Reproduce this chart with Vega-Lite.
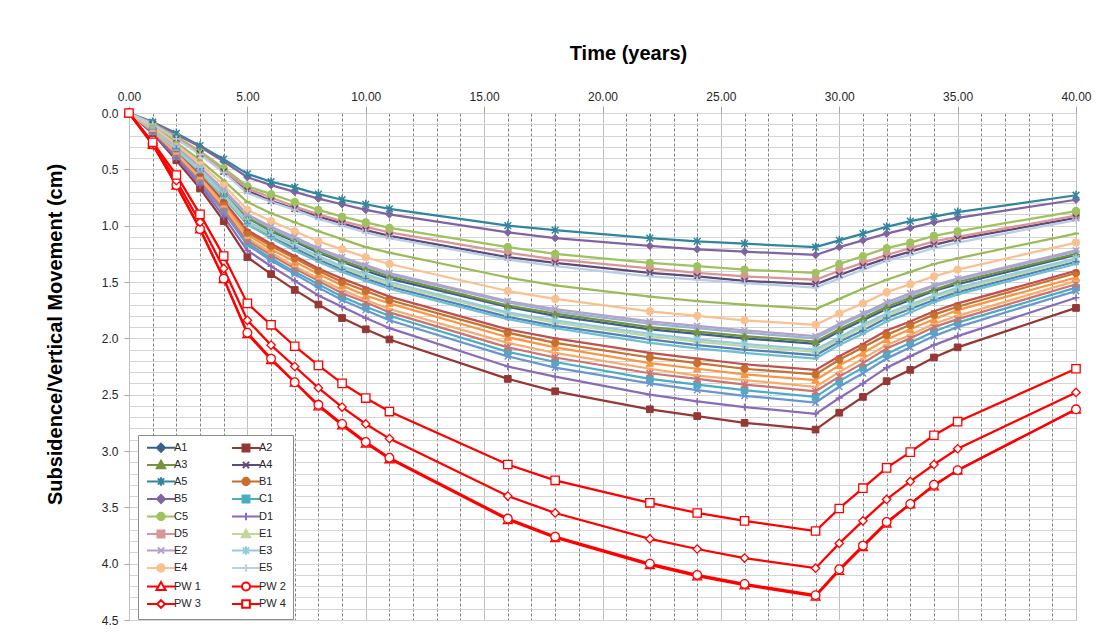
{
"$schema": "https://vega.github.io/schema/vega-lite/v6.json",
"width": 947, "height": 507,
"autosize": "none",
"padding": {"left": 129, "top": 113, "right": 36, "bottom": 18},
"background": "white",
"config": {"font": "Liberation Sans", "view": {"stroke": "#a6a6a6", "strokeWidth": 1}},
"data": {"values": [
{"s":"A1","t":0,"v":0},{"s":"A1","t":1,"v":0.13},{"s":"A1","t":2,"v":0.31},{"s":"A1","t":3,"v":0.49},{"s":"A1","t":4,"v":0.70},{"s":"A1","t":5,"v":0.93},{"s":"A1","t":6,"v":1.05},{"s":"A1","t":7,"v":1.14},{"s":"A1","t":8,"v":1.24},{"s":"A1","t":9,"v":1.32},{"s":"A1","t":10,"v":1.40},{"s":"A1","t":11,"v":1.47},{"s":"A1","t":16,"v":1.72},{"s":"A1","t":18,"v":1.80},{"s":"A1","t":22,"v":1.92},{"s":"A1","t":24,"v":1.96},{"s":"A1","t":26,"v":2.00},{"s":"A1","t":29,"v":2.05},{"s":"A1","t":30,"v":1.94},{"s":"A1","t":31,"v":1.84},{"s":"A1","t":32,"v":1.74},{"s":"A1","t":33,"v":1.66},{"s":"A1","t":34,"v":1.58},{"s":"A1","t":35,"v":1.52},{"s":"A1","t":40,"v":1.26},
{"s":"A2","t":0,"v":0},{"s":"A2","t":1,"v":0.18},{"s":"A2","t":2,"v":0.42},{"s":"A2","t":3,"v":0.67},{"s":"A2","t":4,"v":0.96},{"s":"A2","t":5,"v":1.28},{"s":"A2","t":6,"v":1.43},{"s":"A2","t":7,"v":1.57},{"s":"A2","t":8,"v":1.70},{"s":"A2","t":9,"v":1.82},{"s":"A2","t":10,"v":1.92},{"s":"A2","t":11,"v":2.01},{"s":"A2","t":16,"v":2.36},{"s":"A2","t":18,"v":2.47},{"s":"A2","t":22,"v":2.63},{"s":"A2","t":24,"v":2.69},{"s":"A2","t":26,"v":2.75},{"s":"A2","t":29,"v":2.81},{"s":"A2","t":30,"v":2.66},{"s":"A2","t":31,"v":2.52},{"s":"A2","t":32,"v":2.38},{"s":"A2","t":33,"v":2.28},{"s":"A2","t":34,"v":2.17},{"s":"A2","t":35,"v":2.08},{"s":"A2","t":40,"v":1.73},
{"s":"A3","t":0,"v":0},{"s":"A3","t":1,"v":0.13},{"s":"A3","t":2,"v":0.30},{"s":"A3","t":3,"v":0.49},{"s":"A3","t":4,"v":0.70},{"s":"A3","t":5,"v":0.93},{"s":"A3","t":6,"v":1.04},{"s":"A3","t":7,"v":1.13},{"s":"A3","t":8,"v":1.23},{"s":"A3","t":9,"v":1.31},{"s":"A3","t":10,"v":1.38},{"s":"A3","t":11,"v":1.45},{"s":"A3","t":16,"v":1.71},{"s":"A3","t":18,"v":1.78},{"s":"A3","t":22,"v":1.90},{"s":"A3","t":24,"v":1.94},{"s":"A3","t":26,"v":1.98},{"s":"A3","t":29,"v":2.03},{"s":"A3","t":30,"v":1.92},{"s":"A3","t":31,"v":1.82},{"s":"A3","t":32,"v":1.72},{"s":"A3","t":33,"v":1.64},{"s":"A3","t":34,"v":1.57},{"s":"A3","t":35,"v":1.50},{"s":"A3","t":40,"v":1.25},
{"s":"A4","t":0,"v":0},{"s":"A4","t":1,"v":0.10},{"s":"A4","t":2,"v":0.23},{"s":"A4","t":3,"v":0.36},{"s":"A4","t":4,"v":0.52},{"s":"A4","t":5,"v":0.69},{"s":"A4","t":6,"v":0.78},{"s":"A4","t":7,"v":0.85},{"s":"A4","t":8,"v":0.92},{"s":"A4","t":9,"v":0.98},{"s":"A4","t":10,"v":1.04},{"s":"A4","t":11,"v":1.09},{"s":"A4","t":16,"v":1.28},{"s":"A4","t":18,"v":1.33},{"s":"A4","t":22,"v":1.42},{"s":"A4","t":24,"v":1.45},{"s":"A4","t":26,"v":1.49},{"s":"A4","t":29,"v":1.52},{"s":"A4","t":30,"v":1.44},{"s":"A4","t":31,"v":1.36},{"s":"A4","t":32,"v":1.29},{"s":"A4","t":33,"v":1.23},{"s":"A4","t":34,"v":1.17},{"s":"A4","t":35,"v":1.12},{"s":"A4","t":40,"v":0.93},
{"s":"A5","t":0,"v":0},{"s":"A5","t":1,"v":0.08},{"s":"A5","t":2,"v":0.18},{"s":"A5","t":3,"v":0.29},{"s":"A5","t":4,"v":0.41},{"s":"A5","t":5,"v":0.54},{"s":"A5","t":6,"v":0.61},{"s":"A5","t":7,"v":0.66},{"s":"A5","t":8,"v":0.72},{"s":"A5","t":9,"v":0.77},{"s":"A5","t":10,"v":0.81},{"s":"A5","t":11,"v":0.85},{"s":"A5","t":16,"v":1.00},{"s":"A5","t":18,"v":1.04},{"s":"A5","t":22,"v":1.11},{"s":"A5","t":24,"v":1.14},{"s":"A5","t":26,"v":1.16},{"s":"A5","t":29,"v":1.19},{"s":"A5","t":30,"v":1.13},{"s":"A5","t":31,"v":1.07},{"s":"A5","t":32,"v":1.01},{"s":"A5","t":33,"v":0.96},{"s":"A5","t":34,"v":0.92},{"s":"A5","t":35,"v":0.88},{"s":"A5","t":40,"v":0.73},
{"s":"B1","t":0,"v":0},{"s":"B1","t":1,"v":0.15},{"s":"B1","t":2,"v":0.35},{"s":"B1","t":3,"v":0.56},{"s":"B1","t":4,"v":0.80},{"s":"B1","t":5,"v":1.06},{"s":"B1","t":6,"v":1.18},{"s":"B1","t":7,"v":1.29},{"s":"B1","t":8,"v":1.40},{"s":"B1","t":9,"v":1.50},{"s":"B1","t":10,"v":1.58},{"s":"B1","t":11,"v":1.66},{"s":"B1","t":16,"v":1.95},{"s":"B1","t":18,"v":2.04},{"s":"B1","t":22,"v":2.17},{"s":"B1","t":24,"v":2.22},{"s":"B1","t":26,"v":2.27},{"s":"B1","t":29,"v":2.32},{"s":"B1","t":30,"v":2.19},{"s":"B1","t":31,"v":2.08},{"s":"B1","t":32,"v":1.97},{"s":"B1","t":33,"v":1.88},{"s":"B1","t":34,"v":1.79},{"s":"B1","t":35,"v":1.72},{"s":"B1","t":40,"v":1.42},
{"s":"B2","t":0,"v":0},{"s":"B2","t":1,"v":0.14},{"s":"B2","t":2,"v":0.32},{"s":"B2","t":3,"v":0.52},{"s":"B2","t":4,"v":0.74},{"s":"B2","t":5,"v":0.98},{"s":"B2","t":6,"v":1.10},{"s":"B2","t":7,"v":1.20},{"s":"B2","t":8,"v":1.30},{"s":"B2","t":9,"v":1.39},{"s":"B2","t":10,"v":1.47},{"s":"B2","t":11,"v":1.54},{"s":"B2","t":16,"v":1.81},{"s":"B2","t":18,"v":1.89},{"s":"B2","t":22,"v":2.01},{"s":"B2","t":24,"v":2.06},{"s":"B2","t":26,"v":2.10},{"s":"B2","t":29,"v":2.15},{"s":"B2","t":30,"v":2.03},{"s":"B2","t":31,"v":1.93},{"s":"B2","t":32,"v":1.82},{"s":"B2","t":33,"v":1.74},{"s":"B2","t":34,"v":1.66},{"s":"B2","t":35,"v":1.59},{"s":"B2","t":40,"v":1.32},
{"s":"B3","t":0,"v":0},{"s":"B3","t":1,"v":0.15},{"s":"B3","t":2,"v":0.34},{"s":"B3","t":3,"v":0.55},{"s":"B3","t":4,"v":0.78},{"s":"B3","t":5,"v":1.04},{"s":"B3","t":6,"v":1.16},{"s":"B3","t":7,"v":1.27},{"s":"B3","t":8,"v":1.38},{"s":"B3","t":9,"v":1.47},{"s":"B3","t":10,"v":1.55},{"s":"B3","t":11,"v":1.63},{"s":"B3","t":16,"v":1.92},{"s":"B3","t":18,"v":2.00},{"s":"B3","t":22,"v":2.13},{"s":"B3","t":24,"v":2.18},{"s":"B3","t":26,"v":2.23},{"s":"B3","t":29,"v":2.28},{"s":"B3","t":30,"v":2.16},{"s":"B3","t":31,"v":2.05},{"s":"B3","t":32,"v":1.93},{"s":"B3","t":33,"v":1.85},{"s":"B3","t":34,"v":1.76},{"s":"B3","t":35,"v":1.69},{"s":"B3","t":40,"v":1.40},
{"s":"B4","t":0,"v":0},{"s":"B4","t":1,"v":0.11},{"s":"B4","t":2,"v":0.26},{"s":"B4","t":3,"v":0.42},{"s":"B4","t":4,"v":0.60},{"s":"B4","t":5,"v":0.79},{"s":"B4","t":6,"v":0.89},{"s":"B4","t":7,"v":0.97},{"s":"B4","t":8,"v":1.05},{"s":"B4","t":9,"v":1.12},{"s":"B4","t":10,"v":1.19},{"s":"B4","t":11,"v":1.24},{"s":"B4","t":16,"v":1.46},{"s":"B4","t":18,"v":1.53},{"s":"B4","t":22,"v":1.63},{"s":"B4","t":24,"v":1.67},{"s":"B4","t":26,"v":1.70},{"s":"B4","t":29,"v":1.74},{"s":"B4","t":30,"v":1.65},{"s":"B4","t":31,"v":1.56},{"s":"B4","t":32,"v":1.48},{"s":"B4","t":33,"v":1.41},{"s":"B4","t":34,"v":1.34},{"s":"B4","t":35,"v":1.29},{"s":"B4","t":40,"v":1.07},
{"s":"B5","t":0,"v":0},{"s":"B5","t":1,"v":0.08},{"s":"B5","t":2,"v":0.19},{"s":"B5","t":3,"v":0.30},{"s":"B5","t":4,"v":0.43},{"s":"B5","t":5,"v":0.57},{"s":"B5","t":6,"v":0.64},{"s":"B5","t":7,"v":0.70},{"s":"B5","t":8,"v":0.76},{"s":"B5","t":9,"v":0.81},{"s":"B5","t":10,"v":0.86},{"s":"B5","t":11,"v":0.90},{"s":"B5","t":16,"v":1.06},{"s":"B5","t":18,"v":1.11},{"s":"B5","t":22,"v":1.18},{"s":"B5","t":24,"v":1.21},{"s":"B5","t":26,"v":1.23},{"s":"B5","t":29,"v":1.26},{"s":"B5","t":30,"v":1.19},{"s":"B5","t":31,"v":1.13},{"s":"B5","t":32,"v":1.07},{"s":"B5","t":33,"v":1.02},{"s":"B5","t":34,"v":0.97},{"s":"B5","t":35,"v":0.93},{"s":"B5","t":40,"v":0.77},
{"s":"C1","t":0,"v":0},{"s":"C1","t":1,"v":0.16},{"s":"C1","t":2,"v":0.38},{"s":"C1","t":3,"v":0.60},{"s":"C1","t":4,"v":0.86},{"s":"C1","t":5,"v":1.15},{"s":"C1","t":6,"v":1.29},{"s":"C1","t":7,"v":1.41},{"s":"C1","t":8,"v":1.52},{"s":"C1","t":9,"v":1.63},{"s":"C1","t":10,"v":1.72},{"s":"C1","t":11,"v":1.80},{"s":"C1","t":16,"v":2.12},{"s":"C1","t":18,"v":2.21},{"s":"C1","t":22,"v":2.36},{"s":"C1","t":24,"v":2.41},{"s":"C1","t":26,"v":2.46},{"s":"C1","t":29,"v":2.52},{"s":"C1","t":30,"v":2.38},{"s":"C1","t":31,"v":2.26},{"s":"C1","t":32,"v":2.14},{"s":"C1","t":33,"v":2.04},{"s":"C1","t":34,"v":1.94},{"s":"C1","t":35,"v":1.86},{"s":"C1","t":40,"v":1.55},
{"s":"C2","t":0,"v":0},{"s":"C2","t":1,"v":0.15},{"s":"C2","t":2,"v":0.36},{"s":"C2","t":3,"v":0.57},{"s":"C2","t":4,"v":0.81},{"s":"C2","t":5,"v":1.08},{"s":"C2","t":6,"v":1.21},{"s":"C2","t":7,"v":1.32},{"s":"C2","t":8,"v":1.43},{"s":"C2","t":9,"v":1.53},{"s":"C2","t":10,"v":1.62},{"s":"C2","t":11,"v":1.69},{"s":"C2","t":16,"v":1.99},{"s":"C2","t":18,"v":2.08},{"s":"C2","t":22,"v":2.22},{"s":"C2","t":24,"v":2.27},{"s":"C2","t":26,"v":2.32},{"s":"C2","t":29,"v":2.37},{"s":"C2","t":30,"v":2.24},{"s":"C2","t":31,"v":2.13},{"s":"C2","t":32,"v":2.01},{"s":"C2","t":33,"v":1.92},{"s":"C2","t":34,"v":1.83},{"s":"C2","t":35,"v":1.75},{"s":"C2","t":40,"v":1.46},
{"s":"C3","t":0,"v":0},{"s":"C3","t":1,"v":0.17},{"s":"C3","t":2,"v":0.39},{"s":"C3","t":3,"v":0.62},{"s":"C3","t":4,"v":0.88},{"s":"C3","t":5,"v":1.17},{"s":"C3","t":6,"v":1.31},{"s":"C3","t":7,"v":1.43},{"s":"C3","t":8,"v":1.55},{"s":"C3","t":9,"v":1.66},{"s":"C3","t":10,"v":1.75},{"s":"C3","t":11,"v":1.84},{"s":"C3","t":16,"v":2.16},{"s":"C3","t":18,"v":2.26},{"s":"C3","t":22,"v":2.40},{"s":"C3","t":24,"v":2.46},{"s":"C3","t":26,"v":2.51},{"s":"C3","t":29,"v":2.57},{"s":"C3","t":30,"v":2.43},{"s":"C3","t":31,"v":2.31},{"s":"C3","t":32,"v":2.18},{"s":"C3","t":33,"v":2.08},{"s":"C3","t":34,"v":1.98},{"s":"C3","t":35,"v":1.90},{"s":"C3","t":40,"v":1.58},
{"s":"C4","t":0,"v":0},{"s":"C4","t":1,"v":0.16},{"s":"C4","t":2,"v":0.37},{"s":"C4","t":3,"v":0.59},{"s":"C4","t":4,"v":0.85},{"s":"C4","t":5,"v":1.13},{"s":"C4","t":6,"v":1.26},{"s":"C4","t":7,"v":1.38},{"s":"C4","t":8,"v":1.49},{"s":"C4","t":9,"v":1.60},{"s":"C4","t":10,"v":1.68},{"s":"C4","t":11,"v":1.77},{"s":"C4","t":16,"v":2.08},{"s":"C4","t":18,"v":2.17},{"s":"C4","t":22,"v":2.31},{"s":"C4","t":24,"v":2.36},{"s":"C4","t":26,"v":2.41},{"s":"C4","t":29,"v":2.47},{"s":"C4","t":30,"v":2.34},{"s":"C4","t":31,"v":2.22},{"s":"C4","t":32,"v":2.09},{"s":"C4","t":33,"v":2.00},{"s":"C4","t":34,"v":1.90},{"s":"C4","t":35,"v":1.83},{"s":"C4","t":40,"v":1.52},
{"s":"C5","t":0,"v":0},{"s":"C5","t":1,"v":0.09},{"s":"C5","t":2,"v":0.21},{"s":"C5","t":3,"v":0.34},{"s":"C5","t":4,"v":0.49},{"s":"C5","t":5,"v":0.65},{"s":"C5","t":6,"v":0.72},{"s":"C5","t":7,"v":0.79},{"s":"C5","t":8,"v":0.86},{"s":"C5","t":9,"v":0.92},{"s":"C5","t":10,"v":0.97},{"s":"C5","t":11,"v":1.02},{"s":"C5","t":16,"v":1.19},{"s":"C5","t":18,"v":1.25},{"s":"C5","t":22,"v":1.33},{"s":"C5","t":24,"v":1.36},{"s":"C5","t":26,"v":1.39},{"s":"C5","t":29,"v":1.42},{"s":"C5","t":30,"v":1.34},{"s":"C5","t":31,"v":1.27},{"s":"C5","t":32,"v":1.20},{"s":"C5","t":33,"v":1.15},{"s":"C5","t":34,"v":1.09},{"s":"C5","t":35,"v":1.05},{"s":"C5","t":40,"v":0.87},
{"s":"D1","t":0,"v":0},{"s":"D1","t":1,"v":0.17},{"s":"D1","t":2,"v":0.40},{"s":"D1","t":3,"v":0.64},{"s":"D1","t":4,"v":0.92},{"s":"D1","t":5,"v":1.22},{"s":"D1","t":6,"v":1.36},{"s":"D1","t":7,"v":1.49},{"s":"D1","t":8,"v":1.62},{"s":"D1","t":9,"v":1.72},{"s":"D1","t":10,"v":1.82},{"s":"D1","t":11,"v":1.91},{"s":"D1","t":16,"v":2.25},{"s":"D1","t":18,"v":2.34},{"s":"D1","t":22,"v":2.50},{"s":"D1","t":24,"v":2.56},{"s":"D1","t":26,"v":2.61},{"s":"D1","t":29,"v":2.67},{"s":"D1","t":30,"v":2.53},{"s":"D1","t":31,"v":2.40},{"s":"D1","t":32,"v":2.26},{"s":"D1","t":33,"v":2.16},{"s":"D1","t":34,"v":2.06},{"s":"D1","t":35,"v":1.98},{"s":"D1","t":40,"v":1.64},
{"s":"D2","t":0,"v":0},{"s":"D2","t":1,"v":0.14},{"s":"D2","t":2,"v":0.33},{"s":"D2","t":3,"v":0.52},{"s":"D2","t":4,"v":0.75},{"s":"D2","t":5,"v":0.99},{"s":"D2","t":6,"v":1.11},{"s":"D2","t":7,"v":1.22},{"s":"D2","t":8,"v":1.32},{"s":"D2","t":9,"v":1.41},{"s":"D2","t":10,"v":1.49},{"s":"D2","t":11,"v":1.56},{"s":"D2","t":16,"v":1.83},{"s":"D2","t":18,"v":1.91},{"s":"D2","t":22,"v":2.04},{"s":"D2","t":24,"v":2.09},{"s":"D2","t":26,"v":2.13},{"s":"D2","t":29,"v":2.18},{"s":"D2","t":30,"v":2.06},{"s":"D2","t":31,"v":1.96},{"s":"D2","t":32,"v":1.85},{"s":"D2","t":33,"v":1.77},{"s":"D2","t":34,"v":1.68},{"s":"D2","t":35,"v":1.61},{"s":"D2","t":40,"v":1.34},
{"s":"D3","t":0,"v":0},{"s":"D3","t":1,"v":0.16},{"s":"D3","t":2,"v":0.36},{"s":"D3","t":3,"v":0.58},{"s":"D3","t":4,"v":0.83},{"s":"D3","t":5,"v":1.11},{"s":"D3","t":6,"v":1.24},{"s":"D3","t":7,"v":1.36},{"s":"D3","t":8,"v":1.47},{"s":"D3","t":9,"v":1.57},{"s":"D3","t":10,"v":1.66},{"s":"D3","t":11,"v":1.74},{"s":"D3","t":16,"v":2.04},{"s":"D3","t":18,"v":2.13},{"s":"D3","t":22,"v":2.27},{"s":"D3","t":24,"v":2.33},{"s":"D3","t":26,"v":2.37},{"s":"D3","t":29,"v":2.43},{"s":"D3","t":30,"v":2.30},{"s":"D3","t":31,"v":2.18},{"s":"D3","t":32,"v":2.06},{"s":"D3","t":33,"v":1.97},{"s":"D3","t":34,"v":1.87},{"s":"D3","t":35,"v":1.80},{"s":"D3","t":40,"v":1.49},
{"s":"D4","t":0,"v":0},{"s":"D4","t":1,"v":0.13},{"s":"D4","t":2,"v":0.30},{"s":"D4","t":3,"v":0.48},{"s":"D4","t":4,"v":0.69},{"s":"D4","t":5,"v":0.91},{"s":"D4","t":6,"v":1.02},{"s":"D4","t":7,"v":1.12},{"s":"D4","t":8,"v":1.21},{"s":"D4","t":9,"v":1.29},{"s":"D4","t":10,"v":1.36},{"s":"D4","t":11,"v":1.43},{"s":"D4","t":16,"v":1.68},{"s":"D4","t":18,"v":1.76},{"s":"D4","t":22,"v":1.87},{"s":"D4","t":24,"v":1.91},{"s":"D4","t":26,"v":1.95},{"s":"D4","t":29,"v":2.00},{"s":"D4","t":30,"v":1.89},{"s":"D4","t":31,"v":1.79},{"s":"D4","t":32,"v":1.70},{"s":"D4","t":33,"v":1.62},{"s":"D4","t":34,"v":1.54},{"s":"D4","t":35,"v":1.48},{"s":"D4","t":40,"v":1.23},
{"s":"D5","t":0,"v":0},{"s":"D5","t":1,"v":0.10},{"s":"D5","t":2,"v":0.22},{"s":"D5","t":3,"v":0.36},{"s":"D5","t":4,"v":0.51},{"s":"D5","t":5,"v":0.67},{"s":"D5","t":6,"v":0.75},{"s":"D5","t":7,"v":0.83},{"s":"D5","t":8,"v":0.90},{"s":"D5","t":9,"v":0.96},{"s":"D5","t":10,"v":1.01},{"s":"D5","t":11,"v":1.06},{"s":"D5","t":16,"v":1.24},{"s":"D5","t":18,"v":1.30},{"s":"D5","t":22,"v":1.38},{"s":"D5","t":24,"v":1.42},{"s":"D5","t":26,"v":1.45},{"s":"D5","t":29,"v":1.48},{"s":"D5","t":30,"v":1.40},{"s":"D5","t":31,"v":1.33},{"s":"D5","t":32,"v":1.26},{"s":"D5","t":33,"v":1.20},{"s":"D5","t":34,"v":1.14},{"s":"D5","t":35,"v":1.10},{"s":"D5","t":40,"v":0.91},
{"s":"E1","t":0,"v":0},{"s":"E1","t":1,"v":0.14},{"s":"E1","t":2,"v":0.32},{"s":"E1","t":3,"v":0.51},{"s":"E1","t":4,"v":0.73},{"s":"E1","t":5,"v":0.97},{"s":"E1","t":6,"v":1.08},{"s":"E1","t":7,"v":1.18},{"s":"E1","t":8,"v":1.28},{"s":"E1","t":9,"v":1.37},{"s":"E1","t":10,"v":1.45},{"s":"E1","t":11,"v":1.52},{"s":"E1","t":16,"v":1.78},{"s":"E1","t":18,"v":1.86},{"s":"E1","t":22,"v":1.98},{"s":"E1","t":24,"v":2.03},{"s":"E1","t":26,"v":2.07},{"s":"E1","t":29,"v":2.12},{"s":"E1","t":30,"v":2.01},{"s":"E1","t":31,"v":1.90},{"s":"E1","t":32,"v":1.80},{"s":"E1","t":33,"v":1.72},{"s":"E1","t":34,"v":1.63},{"s":"E1","t":35,"v":1.57},{"s":"E1","t":40,"v":1.30},
{"s":"E2","t":0,"v":0},{"s":"E2","t":1,"v":0.13},{"s":"E2","t":2,"v":0.30},{"s":"E2","t":3,"v":0.48},{"s":"E2","t":4,"v":0.68},{"s":"E2","t":5,"v":0.90},{"s":"E2","t":6,"v":1.01},{"s":"E2","t":7,"v":1.10},{"s":"E2","t":8,"v":1.20},{"s":"E2","t":9,"v":1.28},{"s":"E2","t":10,"v":1.35},{"s":"E2","t":11,"v":1.42},{"s":"E2","t":16,"v":1.67},{"s":"E2","t":18,"v":1.74},{"s":"E2","t":22,"v":1.85},{"s":"E2","t":24,"v":1.89},{"s":"E2","t":26,"v":1.93},{"s":"E2","t":29,"v":1.98},{"s":"E2","t":30,"v":1.87},{"s":"E2","t":31,"v":1.78},{"s":"E2","t":32,"v":1.68},{"s":"E2","t":33,"v":1.60},{"s":"E2","t":34,"v":1.53},{"s":"E2","t":35,"v":1.47},{"s":"E2","t":40,"v":1.22},
{"s":"E3","t":0,"v":0},{"s":"E3","t":1,"v":0.14},{"s":"E3","t":2,"v":0.32},{"s":"E3","t":3,"v":0.50},{"s":"E3","t":4,"v":0.72},{"s":"E3","t":5,"v":0.96},{"s":"E3","t":6,"v":1.07},{"s":"E3","t":7,"v":1.17},{"s":"E3","t":8,"v":1.27},{"s":"E3","t":9,"v":1.36},{"s":"E3","t":10,"v":1.43},{"s":"E3","t":11,"v":1.50},{"s":"E3","t":16,"v":1.77},{"s":"E3","t":18,"v":1.84},{"s":"E3","t":22,"v":1.96},{"s":"E3","t":24,"v":2.01},{"s":"E3","t":26,"v":2.05},{"s":"E3","t":29,"v":2.10},{"s":"E3","t":30,"v":1.99},{"s":"E3","t":31,"v":1.88},{"s":"E3","t":32,"v":1.78},{"s":"E3","t":33,"v":1.70},{"s":"E3","t":34,"v":1.62},{"s":"E3","t":35,"v":1.55},{"s":"E3","t":40,"v":1.29},
{"s":"E4","t":0,"v":0},{"s":"E4","t":1,"v":0.12},{"s":"E4","t":2,"v":0.28},{"s":"E4","t":3,"v":0.45},{"s":"E4","t":4,"v":0.64},{"s":"E4","t":5,"v":0.86},{"s":"E4","t":6,"v":0.96},{"s":"E4","t":7,"v":1.05},{"s":"E4","t":8,"v":1.14},{"s":"E4","t":9,"v":1.21},{"s":"E4","t":10,"v":1.28},{"s":"E4","t":11,"v":1.34},{"s":"E4","t":16,"v":1.58},{"s":"E4","t":18,"v":1.65},{"s":"E4","t":22,"v":1.76},{"s":"E4","t":24,"v":1.80},{"s":"E4","t":26,"v":1.84},{"s":"E4","t":29,"v":1.88},{"s":"E4","t":30,"v":1.78},{"s":"E4","t":31,"v":1.69},{"s":"E4","t":32,"v":1.59},{"s":"E4","t":33,"v":1.52},{"s":"E4","t":34,"v":1.45},{"s":"E4","t":35,"v":1.39},{"s":"E4","t":40,"v":1.15},
{"s":"E5","t":0,"v":0},{"s":"E5","t":1,"v":0.10},{"s":"E5","t":2,"v":0.23},{"s":"E5","t":3,"v":0.37},{"s":"E5","t":4,"v":0.53},{"s":"E5","t":5,"v":0.71},{"s":"E5","t":6,"v":0.79},{"s":"E5","t":7,"v":0.86},{"s":"E5","t":8,"v":0.94},{"s":"E5","t":9,"v":1.00},{"s":"E5","t":10,"v":1.06},{"s":"E5","t":11,"v":1.11},{"s":"E5","t":16,"v":1.30},{"s":"E5","t":18,"v":1.36},{"s":"E5","t":22,"v":1.45},{"s":"E5","t":24,"v":1.48},{"s":"E5","t":26,"v":1.51},{"s":"E5","t":29,"v":1.55},{"s":"E5","t":30,"v":1.47},{"s":"E5","t":31,"v":1.39},{"s":"E5","t":32,"v":1.31},{"s":"E5","t":33,"v":1.26},{"s":"E5","t":34,"v":1.20},{"s":"E5","t":35,"v":1.15},{"s":"E5","t":40,"v":0.95},
{"s":"PW 1","t":0,"v":0},{"s":"PW 1","t":1,"v":0.28},{"s":"PW 1","t":2,"v":0.64},{"s":"PW 1","t":3,"v":1.03},{"s":"PW 1","t":4,"v":1.47},{"s":"PW 1","t":5,"v":1.96},{"s":"PW 1","t":6,"v":2.19},{"s":"PW 1","t":7,"v":2.39},{"s":"PW 1","t":8,"v":2.60},{"s":"PW 1","t":9,"v":2.77},{"s":"PW 1","t":10,"v":2.93},{"s":"PW 1","t":11,"v":3.07},{"s":"PW 1","t":16,"v":3.61},{"s":"PW 1","t":18,"v":3.77},{"s":"PW 1","t":22,"v":4.01},{"s":"PW 1","t":24,"v":4.11},{"s":"PW 1","t":26,"v":4.19},{"s":"PW 1","t":29,"v":4.29},{"s":"PW 1","t":30,"v":4.06},{"s":"PW 1","t":31,"v":3.85},{"s":"PW 1","t":32,"v":3.64},{"s":"PW 1","t":33,"v":3.47},{"s":"PW 1","t":34,"v":3.31},{"s":"PW 1","t":35,"v":3.17},{"s":"PW 1","t":40,"v":2.63},
{"s":"PW 2","t":0,"v":0},{"s":"PW 2","t":1,"v":0.28},{"s":"PW 2","t":2,"v":0.64},{"s":"PW 2","t":3,"v":1.03},{"s":"PW 2","t":4,"v":1.47},{"s":"PW 2","t":5,"v":1.95},{"s":"PW 2","t":6,"v":2.18},{"s":"PW 2","t":7,"v":2.39},{"s":"PW 2","t":8,"v":2.59},{"s":"PW 2","t":9,"v":2.76},{"s":"PW 2","t":10,"v":2.92},{"s":"PW 2","t":11,"v":3.06},{"s":"PW 2","t":16,"v":3.60},{"s":"PW 2","t":18,"v":3.76},{"s":"PW 2","t":22,"v":4.00},{"s":"PW 2","t":24,"v":4.10},{"s":"PW 2","t":26,"v":4.18},{"s":"PW 2","t":29,"v":4.28},{"s":"PW 2","t":30,"v":4.05},{"s":"PW 2","t":31,"v":3.84},{"s":"PW 2","t":32,"v":3.63},{"s":"PW 2","t":33,"v":3.47},{"s":"PW 2","t":34,"v":3.30},{"s":"PW 2","t":35,"v":3.17},{"s":"PW 2","t":40,"v":2.63},
{"s":"PW 3","t":0,"v":0},{"s":"PW 3","t":1,"v":0.27},{"s":"PW 3","t":2,"v":0.60},{"s":"PW 3","t":3,"v":0.97},{"s":"PW 3","t":4,"v":1.38},{"s":"PW 3","t":5,"v":1.84},{"s":"PW 3","t":6,"v":2.06},{"s":"PW 3","t":7,"v":2.25},{"s":"PW 3","t":8,"v":2.44},{"s":"PW 3","t":9,"v":2.61},{"s":"PW 3","t":10,"v":2.76},{"s":"PW 3","t":11,"v":2.89},{"s":"PW 3","t":16,"v":3.40},{"s":"PW 3","t":18,"v":3.55},{"s":"PW 3","t":22,"v":3.78},{"s":"PW 3","t":24,"v":3.87},{"s":"PW 3","t":26,"v":3.95},{"s":"PW 3","t":29,"v":4.04},{"s":"PW 3","t":30,"v":3.82},{"s":"PW 3","t":31,"v":3.62},{"s":"PW 3","t":32,"v":3.43},{"s":"PW 3","t":33,"v":3.27},{"s":"PW 3","t":34,"v":3.12},{"s":"PW 3","t":35,"v":2.98},{"s":"PW 3","t":40,"v":2.48},
{"s":"PW 4","t":0,"v":0},{"s":"PW 4","t":1,"v":0.26},{"s":"PW 4","t":2,"v":0.55},{"s":"PW 4","t":3,"v":0.90},{"s":"PW 4","t":4,"v":1.27},{"s":"PW 4","t":5,"v":1.69},{"s":"PW 4","t":6,"v":1.88},{"s":"PW 4","t":7,"v":2.07},{"s":"PW 4","t":8,"v":2.24},{"s":"PW 4","t":9,"v":2.40},{"s":"PW 4","t":10,"v":2.53},{"s":"PW 4","t":11,"v":2.65},{"s":"PW 4","t":16,"v":3.12},{"s":"PW 4","t":18,"v":3.26},{"s":"PW 4","t":22,"v":3.46},{"s":"PW 4","t":24,"v":3.55},{"s":"PW 4","t":26,"v":3.62},{"s":"PW 4","t":29,"v":3.71},{"s":"PW 4","t":30,"v":3.51},{"s":"PW 4","t":31,"v":3.33},{"s":"PW 4","t":32,"v":3.15},{"s":"PW 4","t":33,"v":3.01},{"s":"PW 4","t":34,"v":2.86},{"s":"PW 4","t":35,"v":2.74},{"s":"PW 4","t":40,"v":2.27}
]},
"encoding": {
  "x": {"field": "t", "type": "quantitative", "scale": {"domain": [0, 40], "nice": false, "zero": false},
    "axis": {"orient": "top", "values": [0,1,2,3,4,5,6,7,8,9,10,11,12,13,14,15,16,17,18,19,20,21,22,23,24,25,26,27,28,29,30,31,32,33,34,35,36,37,38,39,40],
      "labelExpr": "datum.value % 5 === 0 ? format(datum.value, '.2f') : ''",
      "labelOverlap": false, "labelBound": false, "labelFlush": false,
      "labelFontSize": 12, "labelColor": "#262626", "labelPadding": 3,
      "tickSize": 7, "tickColor": {"condition": {"test": "datum.value % 5 === 0", "value": "#a6a6a6"}, "value": "transparent"},
      "domain": false,
      "grid": true,
      "gridColor": {"condition": {"test": "datum.value % 5 === 0", "value": "#bfbfbf"}, "value": "#7f7f7f"},
      "gridDash": {"condition": {"test": "datum.value % 5 === 0", "value": []}, "value": [3, 2]},
      "gridWidth": 1,
      "title": "Time (years)", "titleFontSize": 20, "titleFontWeight": "bold", "titleColor": "#000000",
      "titleX": 499, "titleY": -60, "titleBaseline": "middle", "titleAlign": "center", "titleAnchor": null}},
  "y": {"field": "v", "type": "quantitative", "scale": {"domain": [0, 4.5], "reverse": true, "nice": false},
    "axis": {"values": [0,0.1,0.2,0.3,0.4,0.5,0.6,0.7,0.8,0.9,1,1.1,1.2,1.3,1.4,1.5,1.6,1.7,1.8,1.9,2,2.1,2.2,2.3,2.4,2.5,2.6,2.7,2.8,2.9,3,3.1,3.2,3.3,3.4,3.5,3.6,3.7,3.8,3.9,4,4.1,4.2,4.3,4.4,4.5],
      "labelExpr": "abs(datum.value * 2 - round(datum.value * 2)) < 0.001 ? format(datum.value, '.1f') : ''",
      "labelOverlap": false, "labelBound": false, "labelFlush": false,
      "labelFontSize": 12, "labelColor": "#262626", "labelPadding": 6,
      "tickSize": 5, "tickColor": {"condition": {"test": "abs(datum.value * 2 - round(datum.value * 2)) < 0.001", "value": "#a6a6a6"}, "value": "transparent"},
      "domain": false,
      "grid": true, "gridColor": "#d4d4d4", "gridWidth": 1,
      "title": "Subsidence/Vertical Movement (cm)", "titleFontSize": 20, "titleFontWeight": "bold", "titleColor": "#000000",
      "titleAngle": -90, "titleX": -74, "titleY": 221, "titleBaseline": "middle", "titleAlign": "center", "titleAnchor": null}},
  "stroke": {"field": "s", "type": "nominal",
    "scale": {"domain": ["A1","A2","A3","A4","A5","B1","B2","B3","B4","B5","C1","C2","C3","C4","C5","D1","D2","D3","D4","D5","E1","E2","E3","E4","E5","PW 1","PW 2","PW 3","PW 4"],
      "range": ["#3A5F8F","#953735","#76923C","#5F497A","#31859C","#C8702E","#4F81BD","#C0504D","#9BBB59","#8064A2","#4BACC6","#F79646","#6A96CF","#CD7371","#9DC25E","#8A6BB8","#6FBDD1","#F9AB6B","#95B3D7","#D99694","#C3D69B","#B3A2C7","#93CDDD","#FAC090","#B9CDE5","#FF0000","#FF0000","#FF0000","#FF0000"]},
    "legend": {"title": null, "values": ["A1","A2","A3","A4","A5","B1","B5","C1","C5","D1","D5","E1","E2","E3","E4","E5","PW 1","PW 2","PW 3","PW 4"],
      "orient": "none", "direction": "horizontal", "legendX": 9, "legendY": 322, "columns": 2, "columnPadding": 27, "rowPadding": 0.5, "padding": 7,
      "strokeColor": "#8c8c8c", "fillColor": "white", "cornerRadius": 0,
      "labelFontSize": 11, "labelColor": "#262626", "labelOffset": 18, "symbolSize": 49, "symbolStrokeWidth": 2, "symbolOpacity": 1}}
},
"layer": [
  {"mark": {"type": "line", "strokeWidth": 2.25}},
  {"transform": [{"filter": {"field": "s", "oneOf": ["A1","B5","D4"]}}],
   "mark": {"type": "point", "shape": "diamond", "filled": true, "size": 55, "opacity": 1, "strokeWidth": 1},
   "encoding": {"fill": {"field": "s", "type": "nominal", "legend": null,
     "scale": {"domain": ["A1","A2","A3","A4","A5","B1","B2","B3","B4","B5","C1","C2","C3","C4","C5","D1","D2","D3","D4","D5","E1","E2","E3","E4","E5","PW 1","PW 2","PW 3","PW 4"],
      "range": ["#3A5F8F","#953735","#76923C","#5F497A","#31859C","#C8702E","#4F81BD","#C0504D","#9BBB59","#8064A2","#4BACC6","#F79646","#6A96CF","#CD7371","#9DC25E","#8A6BB8","#6FBDD1","#F9AB6B","#95B3D7","#D99694","#C3D69B","#B3A2C7","#93CDDD","#FAC090","#B9CDE5","#FFFFFF","#FFFFFF","#FFFFFF","#FFFFFF"]}}}},
  {"transform": [{"filter": {"field": "s", "oneOf": ["A2","C1","D5"]}}],
   "mark": {"type": "point", "shape": "square", "filled": true, "size": 45, "opacity": 1, "strokeWidth": 1},
   "encoding": {"fill": {"field": "s", "type": "nominal", "legend": null,
     "scale": {"domain": ["A1","A2","A3","A4","A5","B1","B2","B3","B4","B5","C1","C2","C3","C4","C5","D1","D2","D3","D4","D5","E1","E2","E3","E4","E5","PW 1","PW 2","PW 3","PW 4"],
      "range": ["#3A5F8F","#953735","#76923C","#5F497A","#31859C","#C8702E","#4F81BD","#C0504D","#9BBB59","#8064A2","#4BACC6","#F79646","#6A96CF","#CD7371","#9DC25E","#8A6BB8","#6FBDD1","#F9AB6B","#95B3D7","#D99694","#C3D69B","#B3A2C7","#93CDDD","#FAC090","#B9CDE5","#FFFFFF","#FFFFFF","#FFFFFF","#FFFFFF"]}}}},
  {"transform": [{"filter": {"field": "s", "oneOf": ["A3","C2","E1"]}}],
   "mark": {"type": "point", "shape": "triangle-up", "filled": true, "size": 55, "opacity": 1, "strokeWidth": 1},
   "encoding": {"fill": {"field": "s", "type": "nominal", "legend": null,
     "scale": {"domain": ["A1","A2","A3","A4","A5","B1","B2","B3","B4","B5","C1","C2","C3","C4","C5","D1","D2","D3","D4","D5","E1","E2","E3","E4","E5","PW 1","PW 2","PW 3","PW 4"],
      "range": ["#3A5F8F","#953735","#76923C","#5F497A","#31859C","#C8702E","#4F81BD","#C0504D","#9BBB59","#8064A2","#4BACC6","#F79646","#6A96CF","#CD7371","#9DC25E","#8A6BB8","#6FBDD1","#F9AB6B","#95B3D7","#D99694","#C3D69B","#B3A2C7","#93CDDD","#FAC090","#B9CDE5","#FFFFFF","#FFFFFF","#FFFFFF","#FFFFFF"]}}}},
  {"transform": [{"filter": {"field": "s", "oneOf": ["B1","C5","E4"]}}],
   "mark": {"type": "point", "shape": "circle", "filled": true, "size": 55, "opacity": 1, "strokeWidth": 1},
   "encoding": {"fill": {"field": "s", "type": "nominal", "legend": null,
     "scale": {"domain": ["A1","A2","A3","A4","A5","B1","B2","B3","B4","B5","C1","C2","C3","C4","C5","D1","D2","D3","D4","D5","E1","E2","E3","E4","E5","PW 1","PW 2","PW 3","PW 4"],
      "range": ["#3A5F8F","#953735","#76923C","#5F497A","#31859C","#C8702E","#4F81BD","#C0504D","#9BBB59","#8064A2","#4BACC6","#F79646","#6A96CF","#CD7371","#9DC25E","#8A6BB8","#6FBDD1","#F9AB6B","#95B3D7","#D99694","#C3D69B","#B3A2C7","#93CDDD","#FAC090","#B9CDE5","#FFFFFF","#FFFFFF","#FFFFFF","#FFFFFF"]}}}},
  {"transform": [{"filter": {"field": "s", "oneOf": ["A4","C3","E2"]}}],
   "mark": {"type": "point", "shape": "M-1,-1L1,1M-1,1L1,-1", "filled": false, "size": 40, "opacity": 1, "strokeWidth": 1.5}},
  {"transform": [{"filter": {"field": "s", "oneOf": ["A5","C4","E3"]}}],
   "mark": {"type": "point", "shape": "M-1,-1L1,1M-1,1L1,-1M0,-1.35L0,1.35", "filled": false, "size": 45, "opacity": 1, "strokeWidth": 1.5}},
  {"transform": [{"filter": {"field": "s", "oneOf": ["B2","D1","E5"]}}],
   "mark": {"type": "point", "shape": "M-1,0L1,0M0,-1L0,1", "filled": false, "size": 50, "opacity": 1, "strokeWidth": 1.5}},
  {"transform": [{"filter": {"field": "s", "oneOf": ["B3","B4","D2","D3"]}}],
   "mark": {"type": "point", "shape": "M-1,0L1,0", "filled": false, "size": 36, "opacity": 1, "strokeWidth": 2}},
  {"transform": [{"filter": {"field": "s", "equal": "PW 1"}}],
   "mark": {"type": "point", "shape": "triangle-up", "filled": false, "size": 80, "opacity": 1, "strokeWidth": 1.3, "fill": "white"}},
  {"transform": [{"filter": {"field": "s", "equal": "PW 2"}}],
   "mark": {"type": "point", "shape": "circle", "filled": false, "size": 75, "opacity": 1, "strokeWidth": 1.3, "fill": "white"}},
  {"transform": [{"filter": {"field": "s", "equal": "PW 3"}}],
   "mark": {"type": "point", "shape": "diamond", "filled": false, "size": 70, "opacity": 1, "strokeWidth": 1.3, "fill": "white"}},
  {"transform": [{"filter": {"field": "s", "equal": "PW 4"}}],
   "mark": {"type": "point", "shape": "square", "filled": false, "size": 70, "opacity": 1, "strokeWidth": 1.3, "fill": "white"}},
  {"transform": [{"filter": "datum.t === 0"}],
   "mark": {"type": "point", "filled": true, "size": 49, "opacity": 0, "strokeWidth": 2},
   "encoding": {
     "fill": {"field": "s", "type": "nominal",
       "scale": {"domain": ["A1","A2","A3","A4","A5","B1","B2","B3","B4","B5","C1","C2","C3","C4","C5","D1","D2","D3","D4","D5","E1","E2","E3","E4","E5","PW 1","PW 2","PW 3","PW 4"],
        "range": ["#3A5F8F","#953735","#76923C","#5F497A","#31859C","#C8702E","#4F81BD","#C0504D","#9BBB59","#8064A2","#4BACC6","#F79646","#6A96CF","#CD7371","#9DC25E","#8A6BB8","#6FBDD1","#F9AB6B","#95B3D7","#D99694","#C3D69B","#B3A2C7","#93CDDD","#FAC090","#B9CDE5","#FFFFFF","#FFFFFF","#FFFFFF","#FFFFFF"]},
       "legend": {"title": null, "values": ["A1","A2","A3","A4","A5","B1","B5","C1","C5","D1","D5","E1","E2","E3","E4","E5","PW 1","PW 2","PW 3","PW 4"],
         "orient": "none", "direction": "horizontal", "legendX": 9, "legendY": 322, "columns": 2, "columnPadding": 27, "rowPadding": 0.5, "padding": 7,
         "strokeColor": "#8c8c8c", "fillColor": "white", "cornerRadius": 0,
         "labelFontSize": 11, "labelColor": "#262626", "labelOffset": 18, "symbolSize": 49, "symbolStrokeWidth": 2, "symbolOpacity": 1}},
     "shape": {"field": "s", "type": "nominal",
       "scale": {"domain": ["A1","A2","A3","A4","A5","B1","B2","B3","B4","B5","C1","C2","C3","C4","C5","D1","D2","D3","D4","D5","E1","E2","E3","E4","E5","PW 1","PW 2","PW 3","PW 4"],
        "range": [
          "M-1,0L7,0M3,-1.15L4.15,0L3,1.15L1.85,0Z",
          "M-1,0L7,0M2,-1L4,-1L4,1L2,1Z",
          "M-1,0L7,0M3,-1.2L4.2,0.9L1.8,0.9Z",
          "M-1,0L7,0M2.1,-0.9L3.9,0.9M2.1,0.9L3.9,-0.9",
          "M-1,0L7,0M2.1,-0.9L3.9,0.9M2.1,0.9L3.9,-0.9M3,-1.2L3,1.2",
          "M-1,0L7,0M4.05,0A1.05 1.05 0 1 1 1.95,0A1.05 1.05 0 1 1 4.05,0Z",
          "M-1,0L7,0M3,-1.1L3,1.1",
          "M-1,0L7,0",
          "M-1,0L7,0",
          "M-1,0L7,0M3,-1.15L4.15,0L3,1.15L1.85,0Z",
          "M-1,0L7,0M2,-1L4,-1L4,1L2,1Z",
          "M-1,0L7,0M3,-1.2L4.2,0.9L1.8,0.9Z",
          "M-1,0L7,0M2.1,-0.9L3.9,0.9M2.1,0.9L3.9,-0.9",
          "M-1,0L7,0M2.1,-0.9L3.9,0.9M2.1,0.9L3.9,-0.9M3,-1.2L3,1.2",
          "M-1,0L7,0M4.05,0A1.05 1.05 0 1 1 1.95,0A1.05 1.05 0 1 1 4.05,0Z",
          "M-1,0L7,0M3,-1.1L3,1.1",
          "M-1,0L7,0",
          "M-1,0L7,0",
          "M-1,0L7,0M3,-1.15L4.15,0L3,1.15L1.85,0Z",
          "M-1,0L7,0M2,-1L4,-1L4,1L2,1Z",
          "M-1,0L7,0M3,-1.2L4.2,0.9L1.8,0.9Z",
          "M-1,0L7,0M2.1,-0.9L3.9,0.9M2.1,0.9L3.9,-0.9",
          "M-1,0L7,0M2.1,-0.9L3.9,0.9M2.1,0.9L3.9,-0.9M3,-1.2L3,1.2",
          "M-1,0L7,0M4.05,0A1.05 1.05 0 1 1 1.95,0A1.05 1.05 0 1 1 4.05,0Z",
          "M-1,0L7,0M3,-1.1L3,1.1",
          "M-1,0L2.27,0M3.73,0L7,0M3,-1.3L4.3,1L1.7,1Z",
          "M-1,0L1.85,0M4.15,0L7,0M4.15,0A1.15 1.15 0 1 1 1.85,0A1.15 1.15 0 1 1 4.15,0Z",
          "M-1,0L1.9,0M4.1,0L7,0M3,-1.1L4.1,0L3,1.1L1.9,0Z",
          "M-1,0L1.9,0M4.1,0L7,0M1.9,-1.1L4.1,-1.1L4.1,1.1L1.9,1.1Z"]},
       "legend": {"title": null, "values": ["A1","A2","A3","A4","A5","B1","B5","C1","C5","D1","D5","E1","E2","E3","E4","E5","PW 1","PW 2","PW 3","PW 4"],
         "orient": "none", "direction": "horizontal", "legendX": 9, "legendY": 322, "columns": 2, "columnPadding": 27, "rowPadding": 0.5, "padding": 7,
         "strokeColor": "#8c8c8c", "fillColor": "white", "cornerRadius": 0,
         "labelFontSize": 11, "labelColor": "#262626", "labelOffset": 18, "symbolSize": 49, "symbolStrokeWidth": 2, "symbolOpacity": 1}}
   }}
]
}
